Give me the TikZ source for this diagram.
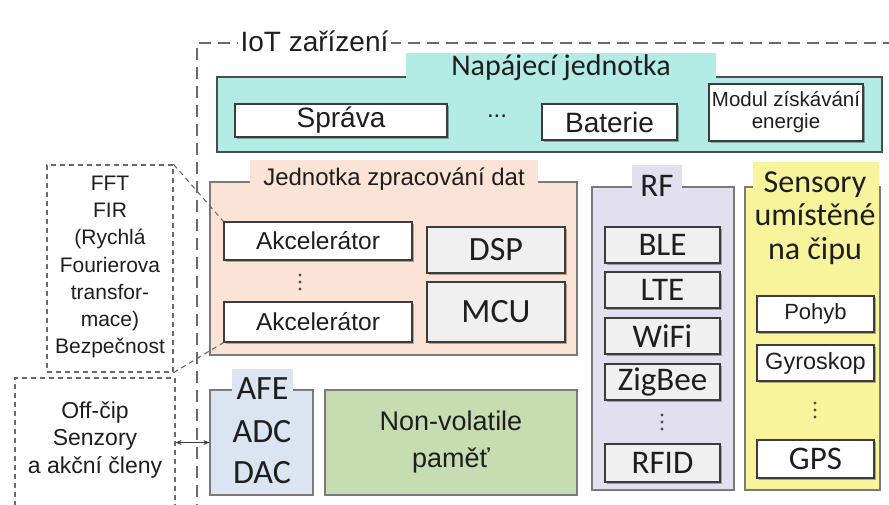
\documentclass[tikz,border=0pt]{standalone}
\usepackage{fontspec}
\setmainfont{Liberation Sans}
\newfontfamily\carlito{Carlito}
\usetikzlibrary{arrows.meta,shadows}
\definecolor{txt}{HTML}{1E1E1E}
\definecolor{tealf}{HTML}{B2ECE5}
\definecolor{peach}{HTML}{FBE4D5}
\definecolor{lav}{HTML}{E2E0EE}
\definecolor{yel}{HTML}{F8F49C}
\definecolor{lblue}{HTML}{DAE5F1}
\definecolor{lgreen}{HTML}{C6DDB1}
\definecolor{inline}{HTML}{3C3C3C}
\definecolor{contline}{HTML}{7A7A7A}
\definecolor{dashc}{HTML}{6A6A6A}
\newcommand\myfs[2]{\fontsize{#1}{#2}\selectfont}
\tikzset{
  inbox/.style={draw=inline, line width=1.4pt, fill=white, inner sep=0pt, text=txt,
    drop shadow={shadow xshift=1.6pt, shadow yshift=-1.6pt, fill=black, opacity=0.3}},
  graybox/.style={inbox, fill=black!6},
  cont/.style={draw=contline, line width=1.3pt, inner sep=0pt},
  tab/.style={inner sep=0pt, text=txt},
  plain/.style={inner sep=0pt, text=txt, align=center},
  dotsnode/.style={inner sep=0pt, minimum width=4pt, minimum height=20pt},
  dbox/.style={draw=dashc, line width=1.2pt, dash pattern=on 5pt off 4pt, inner sep=0pt},
  conn/.style={draw=dashc, line width=1.1pt, dash pattern=on 5pt off 4pt},
}
\begin{document}
\begin{tikzpicture}[x=1pt,y=-1pt]
\useasboundingbox (0,0) rectangle (889,504);
\clip (0,0) rectangle (889,504);
\fill[white] (0,0) rectangle (889,504);

% outer IoT device frame
\node[draw=dashc, line width=2pt, dash pattern=on 12pt off 7pt, minimum width=723pt, minimum height=487pt] (iot) at (558.5,286.5) {};
\node[fill=white, inner sep=3pt, text=txt, font=\myfs{28}{30}] (iotlbl) at (314.5,41) {IoT zařízení};

% power unit
\node[cont, draw=black!70, fill=tealf, minimum width=665pt, minimum height=75pt] (power) at (549.5,114.5) {};
\node[tab, fill=tealf, minimum width=310pt, minimum height=30pt, font=\carlito\myfs{30}{32}] (powlbl) at (561,68) {Napájecí jednotka};
\node[inbox, minimum width=212pt, minimum height=33pt, font=\myfs{28}{30}] (sprava) at (341,120.5) {Správa};
\node[plain, font=\myfs{24}{24}] (pdots) at (497,116) {...};
\node[inbox, minimum width=135pt, minimum height=36pt, font=\myfs{28}{30}] (baterie) at (609.5,122) {Baterie};
\node[inbox, minimum width=154pt, minimum height=57pt, align=center, font=\myfs{20.5}{22}] (modul) at (786,112.5) {Modul získávání\\energie};

% data processing unit
\node[cont, fill=peach, minimum width=367pt, minimum height=173pt] (data) at (393.5,268.5) {};
\node[tab, fill=peach, minimum width=288pt, minimum height=38pt, font=\myfs{24}{26}] (datalbl) at (394,179) {Jednotka zpracování dat};
\node[inbox, minimum width=188pt, minimum height=38pt, font=\myfs{24.5}{26}] (akc1) at (318,241) {Akcelerátor};
\node[dotsnode] (adots) at (300,282) {};
\node[inbox, minimum width=188pt, minimum height=40pt, font=\myfs{24.5}{26}] (akc2) at (318,322) {Akcelerátor};
\node[graybox, minimum width=138pt, minimum height=46pt, font=\carlito\myfs{34}{36}] (dsp) at (496,250) {DSP};
\node[graybox, minimum width=138pt, minimum height=60pt, font=\carlito\myfs{34}{36}] (mcu) at (496,312) {MCU};

% AFE
\node[cont, fill=lblue, minimum width=103pt, minimum height=105pt] (afe) at (261.5,442.5) {};
\node[tab, fill=lblue, minimum width=61pt, minimum height=40pt, font=\carlito\myfs{34}{36}] (afelbl) at (262.5,389) {AFE};
\node[plain, font=\carlito\myfs{34}{41}] (adc) at (262,452) {ADC\\DAC};

% non-volatile memory
\node[cont, fill=lgreen, minimum width=252pt, minimum height=105pt, align=center, text=txt, font=\myfs{27}{37}] (nvm) at (451,442.5) {Non-volatile\\paměť};

% RF
\node[cont, fill=lav, minimum width=142pt, minimum height=303pt] (rf) at (663,338.5) {};
\node[tab, fill=lav, minimum width=50pt, minimum height=42pt, font=\carlito\myfs{33}{35}] (rflbl) at (657,186) {RF};
\node[graybox, minimum width=115pt, minimum height=36pt, font=\carlito\myfs{33}{35}] (ble) at (662.5,245) {BLE};
\node[graybox, minimum width=115pt, minimum height=36pt, font=\carlito\myfs{33}{35}] (lte) at (662.5,290) {LTE};
\node[graybox, minimum width=115pt, minimum height=36pt, font=\carlito\myfs{33}{35}] (wifi) at (662.5,336) {WiFi};
\node[graybox, minimum width=115pt, minimum height=36pt, font=\carlito\myfs{33}{35}] (zigbee) at (662.5,382) {ZigBee};
\node[dotsnode] (rdots) at (662,422) {};
\node[graybox, minimum width=115pt, minimum height=38pt, font=\carlito\myfs{33}{35}] (rfid) at (662.5,463) {RFID};

% on-chip sensors
\node[cont, fill=yel, minimum width=135pt, minimum height=303pt] (sens) at (812.5,338.5) {};
\fill[yel] (753,162) rectangle (879,200);
\node[plain, font=\carlito\myfs{32}{33.5}] (senslbl) at (815,218) {Sensory\\umístěné\\na čipu};
\node[inbox, minimum width=117pt, minimum height=36pt, font=\myfs{22}{24}] (pohyb) at (815.5,314) {Pohyb};
\node[inbox, minimum width=117pt, minimum height=36pt, font=\myfs{23.5}{25}] (gyro) at (815.5,363) {Gyroskop};
\node[dotsnode] (sdots) at (815,410) {};
\node[inbox, minimum width=117pt, minimum height=38pt, font=\carlito\myfs{33}{35}] (gps) at (815.5,459) {GPS};

% vertical ellipsis dots
\foreach \n in {adots,rdots,sdots}{
  \foreach \d in {-7,0,7}{
    \fill[black!70] ([yshift=\d pt]\n.center) circle (1.7pt);
  }
}

% left annotations
\node[dbox, fill=white, minimum width=126pt, minimum height=207pt] (fft) at (110,268.5) {};
\node[plain, font=\myfs{21}{27.3}] (fftt) at (110,267) {FFT\\FIR\\(Rychlá\\Fourierova\\transfor-\\mace)\\Bezpečnost};
\node[dbox, fill=white, minimum width=160pt, minimum height=160pt] (offchip) at (95,458) {};
\node[plain, font=\myfs{23}{27.5}] (offt) at (95,440) {Off-čip\\Senzory\\a akční členy};

% connectors
\draw[conn] (fft.north east) -- (akc1.north west);
\draw[conn] (fft.south east) -- (akc2.south west);
\draw[draw=inline, line width=1.1pt, {Stealth[length=6pt,width=5pt]}-{Stealth[length=6pt,width=5pt]}] (afe.west -| offchip.east) -- (afe.west);
\end{tikzpicture}
\end{document}
